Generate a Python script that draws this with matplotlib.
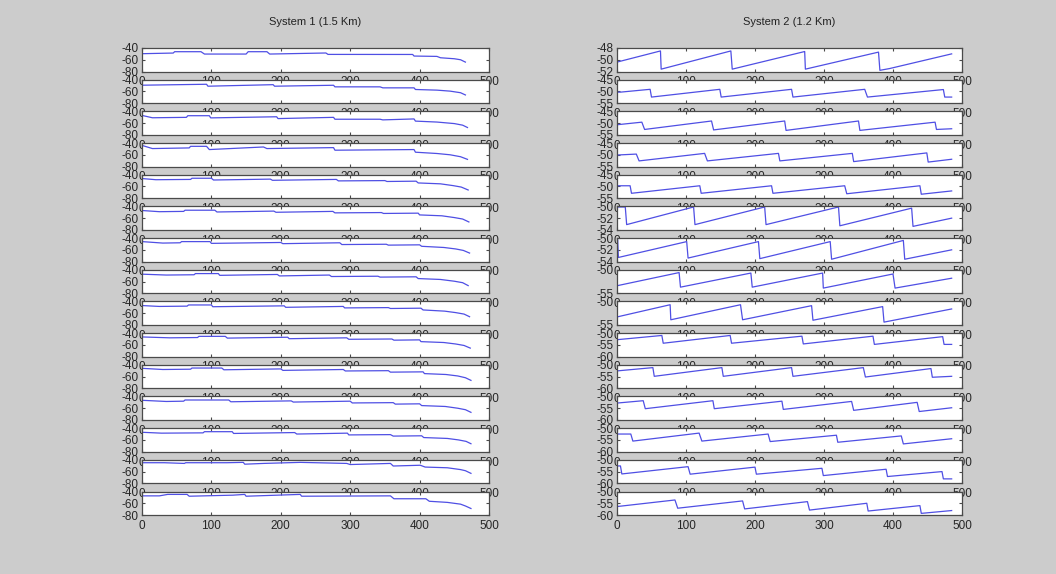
import matplotlib
matplotlib.use("Agg")
import matplotlib.pyplot as plt

plt.rcParams['font.family'] = ['Liberation Sans', 'DejaVu Sans']
plt.rcParams['axes.unicode_minus'] = False

titles = ["System 1 (1.5 Km)", "System 2 (1.2 Km)"]
x_ticks = [0, 100, 200, 300, 400, 500]

# ---------------- System 1 (left column) : vertices of each trace ----------------
s1_x = [
    [0, 45, 47, 85, 90, 150, 153, 180, 184, 265, 268, 390, 392, 425, 430, 450, 459, 466],
    [0, 93, 95, 189, 191, 276, 278, 343, 347, 392, 394, 425, 444, 459, 466],
    [0, 15, 64, 66, 97, 99, 194, 196, 276, 278, 343, 347, 392, 394, 425, 450, 462, 469],
    [0, 15, 68, 70, 93, 97, 175, 180, 276, 278, 392, 394, 425, 444, 459, 469],
    [0, 20, 70, 72, 100, 103, 185, 188, 280, 283, 350, 353, 395, 398, 430, 448, 460, 470],
    [0, 25, 60, 62, 105, 108, 190, 193, 275, 278, 345, 348, 398, 400, 432, 450, 462, 471],
    [0, 30, 55, 57, 98, 100, 200, 203, 285, 288, 352, 355, 400, 403, 435, 452, 463, 472],
    [0, 35, 75, 77, 110, 112, 195, 198, 270, 273, 340, 343, 395, 398, 430, 450, 462, 470],
    [0, 25, 65, 67, 100, 102, 205, 207, 290, 292, 355, 358, 402, 405, 436, 452, 464, 472],
    [0, 40, 80, 82, 120, 123, 210, 212, 295, 298, 360, 363, 400, 402, 435, 452, 464, 473],
    [0, 30, 70, 72, 115, 118, 200, 203, 290, 293, 355, 358, 405, 407, 438, 455, 466, 474],
    [0, 35, 60, 62, 125, 128, 215, 218, 300, 303, 362, 365, 400, 403, 437, 455, 466, 474],
    [0, 28, 88, 90, 130, 132, 220, 223, 296, 298, 358, 362, 403, 406, 440, 456, 467, 474],
    [0, 32, 61, 63, 122, 146, 148, 175, 228, 295, 300, 358, 362, 401, 408, 440, 459, 466, 474],
    [0, 25, 37, 65, 68, 131, 148, 150, 228, 230, 358, 363, 409, 414, 440, 459, 466, 474],
]
s1_y = [
    [-49.7, -48.6, -46.3, -46.3, -50.3, -50.3, -46.3, -46.3, -50.3, -48.5, -50.9, -51.0, -53.7, -54.3, -56.6, -58.3, -60.0, -64.0],
    [-49.4, -47.8, -51.1, -48.5, -51.1, -49.5, -52.2, -52.2, -53.9, -53.9, -56.7, -57.8, -59.5, -62.2, -66.0],
    [-46.9, -50.9, -50.2, -47.4, -47.4, -51.1, -49.2, -52.3, -50.2, -53.4, -53.4, -54.5, -52.9, -56.6, -58.2, -60.8, -63.5, -67.5],
    [-44.0, -49.4, -48.3, -45.6, -45.6, -51.1, -46.7, -49.4, -47.8, -52.2, -51.1, -55.6, -57.8, -60.0, -63.3, -67.8],
    [-46.5, -48.5, -48.0, -46.0, -46.0, -49.0, -47.5, -49.5, -48.0, -50.5, -50.0, -51.5, -51.0, -54.0, -55.5, -58.5, -61.0, -66.0],
    [-47.0, -49.0, -48.5, -46.5, -46.5, -49.5, -48.0, -50.0, -48.5, -51.0, -50.5, -52.0, -51.5, -54.5, -56.0, -59.0, -61.5, -66.5],
    [-46.0, -48.5, -48.0, -46.0, -46.0, -49.0, -47.5, -49.5, -48.0, -51.0, -50.5, -52.0, -51.5, -54.0, -56.0, -58.5, -61.0, -65.5],
    [-47.5, -49.0, -48.5, -46.5, -46.5, -49.5, -48.0, -50.5, -49.0, -51.5, -51.0, -52.5, -52.0, -55.0, -56.5, -59.5, -62.0, -67.0],
    [-47.0, -48.5, -48.0, -46.0, -46.0, -49.0, -47.5, -50.0, -48.5, -51.0, -50.5, -52.0, -51.5, -54.5, -56.5, -59.0, -61.5, -66.0],
    [-46.5, -48.0, -47.5, -45.5, -45.5, -48.5, -47.0, -49.5, -48.0, -50.5, -50.0, -52.0, -51.5, -54.5, -56.0, -58.5, -61.0, -65.5],
    [-46.0, -48.0, -47.5, -45.5, -45.5, -48.5, -47.0, -49.5, -48.0, -50.5, -50.0, -52.5, -52.0, -55.0, -56.5, -59.0, -62.0, -66.5],
    [-46.5, -48.5, -48.0, -46.0, -46.0, -49.0, -47.5, -49.5, -48.0, -51.0, -50.5, -53.0, -52.5, -55.5, -57.0, -60.0, -62.5, -67.0],
    [-47.0, -48.5, -48.0, -46.0, -46.0, -49.0, -47.5, -50.0, -48.5, -51.5, -51.0, -53.5, -53.0, -56.0, -57.5, -60.0, -62.5, -66.5],
    [-44.9, -44.9, -46.1, -44.9, -44.9, -44.3, -47.4, -46.1, -44.3, -46.1, -48.0, -46.1, -50.5, -49.2, -52.3, -53.5, -56.6, -58.5, -63.0],
    [-47.4, -47.4, -44.9, -44.9, -48.0, -46.2, -44.9, -48.0, -44.9, -48.0, -47.4, -52.3, -52.3, -56.6, -58.5, -61.5, -64.6, -68.9],
]

# ---------------- System 2 (right column) : vertices of each trace ----------------
s2_x = [
    [0, 63, 64, 165, 167, 272, 273, 379, 381, 395, 485],
    [0, 5, 48, 50, 149, 151, 253, 255, 359, 363, 473, 475, 485],
    [0, 36, 40, 137, 140, 243, 245, 350, 352, 461, 463, 485],
    [0, 28, 32, 127, 131, 234, 236, 341, 343, 449, 451, 485],
    [0, 19, 21, 120, 122, 224, 226, 330, 333, 439, 441, 485],
    [0, 12, 14, 111, 113, 214, 216, 321, 323, 427, 429, 485],
    [0, 1, 2, 101, 103, 205, 207, 309, 311, 415, 417, 485],
    [0, 90, 92, 194, 196, 298, 299, 400, 403, 485],
    [0, 77, 78, 179, 182, 282, 284, 385, 387, 485],
    [0, 65, 67, 164, 166, 268, 270, 371, 373, 472, 474, 485],
    [0, 52, 54, 152, 154, 253, 255, 357, 360, 455, 457, 485],
    [0, 38, 41, 139, 141, 239, 241, 340, 343, 435, 438, 485],
    [0, 20, 23, 119, 123, 219, 222, 318, 320, 412, 415, 485],
    [0, 5, 7, 103, 106, 200, 202, 297, 299, 390, 392, 471, 473, 485],
    [0, 84, 88, 182, 185, 276, 279, 362, 364, 439, 441, 485],
]
s2_y = [
    [-50.4, -48.5, -51.6, -48.5, -51.6, -48.6, -51.6, -48.7, -51.8, -51.5, -49.0],
    [-50.3, -50.3, -49.1, -52.4, -49.1, -52.4, -49.1, -52.4, -49.1, -52.4, -49.2, -52.4, -52.4],
    [-50.7, -49.6, -52.7, -49.1, -52.9, -49.1, -53.1, -49.1, -53.1, -49.6, -52.7, -52.4],
    [-50.1, -49.7, -52.6, -49.4, -52.6, -49.4, -52.6, -49.4, -52.9, -49.2, -53.1, -51.9],
    [-49.7, -49.7, -52.9, -49.7, -52.9, -49.7, -52.9, -49.7, -53.1, -49.7, -53.3, -51.9],
    [-50.1, -50.1, -53.1, -50.1, -53.1, -50.1, -53.1, -50.1, -53.3, -50.3, -53.4, -52.0],
    [-50.3, -50.3, -53.3, -50.6, -53.4, -50.6, -53.5, -50.6, -53.6, -50.4, -53.6, -52.0],
    [-53.4, -50.6, -53.7, -50.7, -53.7, -50.7, -53.9, -50.9, -53.9, -51.8],
    [-53.3, -50.7, -53.9, -50.7, -53.9, -50.9, -54.0, -51.1, -54.4, -51.6],
    [-52.8, -51.0, -54.3, -51.0, -54.3, -51.3, -54.6, -51.3, -54.8, -51.5, -54.8, -54.8],
    [-52.6, -51.2, -54.9, -51.2, -54.9, -51.2, -54.9, -51.2, -55.2, -51.6, -55.3, -54.9],
    [-52.8, -51.8, -55.2, -51.8, -55.2, -52.0, -55.5, -52.1, -55.9, -52.5, -56.4, -54.8],
    [-52.5, -52.5, -55.5, -52.1, -55.5, -52.5, -55.7, -53.0, -56.0, -53.3, -56.7, -54.5],
    [-52.6, -52.6, -56.0, -52.9, -56.1, -53.1, -56.1, -53.6, -56.7, -54.0, -57.1, -55.0, -58.1, -58.1],
    [-56.4, -53.6, -57.1, -54.0, -57.4, -54.3, -57.9, -55.0, -58.3, -56.0, -59.3, -58.1],
]

# y-axis limits / ticks for the right column
s2_ylim = [(-52, -48), (-55, -45), (-55, -45), (-55, -45), (-55, -45),
           (-54, -50), (-54, -50), (-55, -50), (-55, -50), (-60, -50),
           (-60, -50), (-60, -50), (-60, -50), (-60, -50), (-60, -50)]
s2_yticks = [[-52, -50, -48], [-55, -50, -45], [-55, -50, -45], [-55, -50, -45], [-55, -50, -45],
             [-54, -52, -50], [-54, -52, -50], [-55, -50], [-55, -50], [-60, -55, -50],
             [-60, -55, -50], [-60, -55, -50], [-60, -55, -50], [-60, -55, -50], [-60, -55, -50]]
s1_ylim = (-80, -40)
s1_yticks = [-80, -60, -40]

# ---------------- figure ----------------
W, H = 1056, 574
fig = plt.figure(figsize=(W / 100, H / 100), dpi=100, facecolor='#cccccc')

line_color = '#4f4fe4'
spine_color = '#4a4a4a'
n_rows = 15
top_px, row_h, pitch = 48, 23.5, 31.68
cols = [(142, 489), (617, 962)]


def style(ax, z):
    ax.set_zorder(z)
    ax.set_facecolor('white')
    for s in ax.spines.values():
        s.set_color(spine_color)
        s.set_linewidth(0.9)
    ax.tick_params(direction='in', length=2.5, width=0.8, colors=spine_color,
                   labelcolor='#262626', labelsize=8.5, top=True, right=True)
    ax.tick_params(axis='x', pad=3.5)
    ax.tick_params(axis='y', pad=2.5)
    ax.set_xlim(0, 500)
    ax.set_xticks(x_ticks)
    ax.set_xticklabels([str(t) for t in x_ticks])


for r in range(n_rows):
    y0 = H - (top_px + r * pitch + row_h)
    for c, (xl, xr) in enumerate(cols):
        ax = fig.add_axes([xl / W, y0 / H, (xr - xl) / W, row_h / H])
        style(ax, r + 1)
        if c == 0:
            ax.plot(s1_x[r], s1_y[r], color=line_color, lw=0.9)
            ax.set_ylim(*s1_ylim)
            ax.set_yticks(s1_yticks)
            ax.set_yticklabels([str(t) for t in s1_yticks])
        else:
            ax.plot(s2_x[r], s2_y[r], color=line_color, lw=0.9)
            ax.set_ylim(*s2_ylim[r])
            ax.set_yticks(s2_yticks[r])
            ax.set_yticklabels([str(t) for t in s2_yticks[r]])

for c, (xl, xr) in enumerate(cols):
    fig.text((xl + xr) / 2 / W, 1 - 22 / H, titles[c], ha='center', va='center',
             fontsize=8, color='#222222')

fig.savefig('out.png', dpi=100, facecolor=fig.get_facecolor())
